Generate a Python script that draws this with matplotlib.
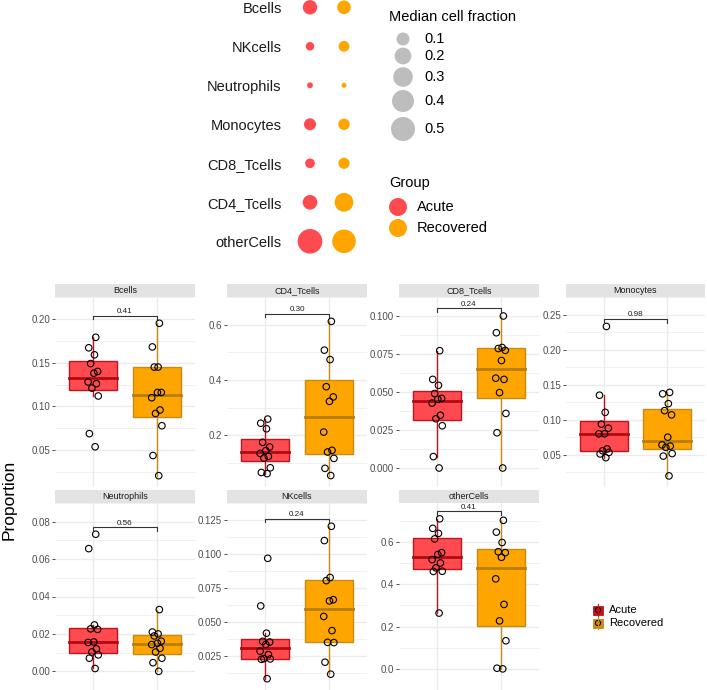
import numpy as np
import matplotlib
matplotlib.use("Agg")
import matplotlib.pyplot as plt
from matplotlib.patches import Rectangle

plt.rcParams['font.family'] = ['Liberation Sans', 'DejaVu Sans']

# ---- data ----
cell_types = ["Bcells", "CD4_Tcells", "CD8_Tcells", "Monocytes",
              "Neutrophils", "NKcells", "otherCells"]
dot_order = ["Bcells", "NKcells", "Neutrophils", "Monocytes",
             "CD8_Tcells", "CD4_Tcells", "otherCells"]
groups = ["Acute", "Recovered"]

acute = {
    "Bcells": [0.054, 0.069, 0.112, 0.121, 0.126, 0.128, 0.138, 0.140, 0.149, 0.159, 0.167, 0.179],
    "CD4_Tcells": [0.062, 0.066, 0.083, 0.118, 0.124, 0.135, 0.145, 0.158, 0.175, 0.224, 0.244, 0.259],
    "CD8_Tcells": [0.0, 0.0075, 0.0278, 0.0324, 0.0347, 0.0427, 0.0452, 0.0458, 0.049, 0.0544, 0.0583, 0.0772],
    "Monocytes": [0.046, 0.0513, 0.0535, 0.0558, 0.0584, 0.080, 0.080, 0.088, 0.0938, 0.1106, 0.135, 0.233],
    "Neutrophils": [0.0015, 0.007, 0.0088, 0.0103, 0.012, 0.0154, 0.0157, 0.0224, 0.0227, 0.0248, 0.0656, 0.0733],
    "NKcells": [0.0085, 0.0227, 0.023, 0.0232, 0.0262, 0.0287, 0.0336, 0.0354, 0.0359, 0.0419, 0.0619, 0.0969],
    "otherCells": [0.264, 0.461, 0.462, 0.478, 0.501, 0.517, 0.541, 0.550, 0.615, 0.641, 0.665, 0.710],
}
recovered = {
    "Bcells": [0.021, 0.044, 0.078, 0.092, 0.096, 0.110, 0.116, 0.116, 0.145, 0.145, 0.168, 0.195],
    "CD4_Tcells": [0.055, 0.081, 0.117, 0.140, 0.146, 0.212, 0.323, 0.339, 0.376, 0.474, 0.508, 0.612],
    "CD8_Tcells": [0.0, 0.0232, 0.0359, 0.0496, 0.0583, 0.0591, 0.0707, 0.0774, 0.0786, 0.0793, 0.089, 0.100],
    "Monocytes": [0.020, 0.0482, 0.0518, 0.0606, 0.0624, 0.0642, 0.0752, 0.107, 0.113, 0.123, 0.137, 0.139],
    "Neutrophils": [0.0, 0.0046, 0.007, 0.0103, 0.0123, 0.0143, 0.015, 0.0161, 0.0189, 0.020, 0.021, 0.033],
    "NKcells": [0.0118, 0.0206, 0.035, 0.0352, 0.0438, 0.0542, 0.0656, 0.0665, 0.0805, 0.0828, 0.1099, 0.1204],
    "otherCells": [0.0, 0.003, 0.133, 0.227, 0.305, 0.426, 0.528, 0.550, 0.554, 0.598, 0.647, 0.703],
}
p_values = {"Bcells": "0.41", "CD4_Tcells": "0.30", "CD8_Tcells": "0.24", "Monocytes": "0.98",
            "Neutrophils": "0.56", "NKcells": "0.24", "otherCells": "0.41"}
y_ticks = {
    "Bcells": ([0.05, 0.10, 0.15, 0.20], "%.2f"),
    "CD4_Tcells": ([0.2, 0.4, 0.6], "%.1f"),
    "CD8_Tcells": ([0.0, 0.025, 0.05, 0.075, 0.1], "%.3f"),
    "Monocytes": ([0.05, 0.10, 0.15, 0.20, 0.25], "%.2f"),
    "Neutrophils": ([0.0, 0.02, 0.04, 0.06, 0.08], "%.2f"),
    "NKcells": ([0.025, 0.05, 0.075, 0.1, 0.125], "%.3f"),
    "otherCells": ([0.0, 0.2, 0.4, 0.6], "%.1f"),
}
size_breaks = [0.1, 0.2, 0.3, 0.4, 0.5]

# ---- style ----
W, H = 707, 690
fill = {"Acute": "#FF4B50", "Recovered": "#FFA500"}
edge = {"Acute": "#C4121C", "Recovered": "#C98A12"}
med_col = {"Acute": "#B00A12", "Recovered": "#B87D10"}
grid_col = "#EBEBEB"

fig = plt.figure(figsize=(W / 100, H / 100), dpi=100)


def px_axes(x0, y0, x1, y1, **kw):
    return fig.add_axes([x0 / W, 1 - y1 / H, (x1 - x0) / W, (y1 - y0) / H], **kw)


# ---- top dot plot ----
medians = {g: {c: np.median(d[c]) for c in cell_types}
           for g, d in (("Acute", acute), ("Recovered", recovered))}
all_med = [v for g in groups for v in medians[g].values()]
vmin, vmax = min(all_med), max(all_med)


def dot_size(v, d0=5.0, d1=24.6):
    # ggplot-like area scale, diameter in pixels -> scatter size in pt^2
    d = d0 + (d1 - d0) * np.sqrt(np.clip((np.asarray(v) - vmin) / (vmax - vmin), 0, 1))
    return (d * 0.72) ** 2


dax = px_axes(290, 0, 364, 260)
for gi, g in enumerate(groups):
    ys = np.arange(len(dot_order))
    vals = [medians[g][c] for c in dot_order]
    dax.scatter(np.full(len(ys), gi), ys, s=dot_size(vals), color=fill[g],
                edgecolors="none", clip_on=False)
dax.set_xlim(-0.588, 1.588)
dax.set_ylim((260 - 7.3) / 39, -7.3 / 39)
dax.set_yticks(range(len(dot_order)))
dax.set_yticklabels(dot_order, fontsize=10.5, color="#1A1A1A")
dax.set_xticks([])
dax.tick_params(axis="y", length=0, pad=6)
for s in dax.spines.values():
    s.set_visible(False)

# legends (overlay in pixel coordinates)
lax = px_axes(0, 0, W, H)
lax.set_xlim(0, W)
lax.set_ylim(H, 0)
lax.axis("off")
lax.text(389, 17, "Median cell fraction", fontsize=10.5, va="center", ha="left")
for b, yy in zip(size_breaks, [39, 56, 77, 101, 129]):
    lax.scatter([403], [yy], s=dot_size(b), color="#BDBDBD", edgecolors="none")
    lax.text(424, yy, f"{b:.1f}", fontsize=10.5, va="center", ha="left")
lax.text(389, 183, "Group", fontsize=10.5, va="center", ha="left")
for g, yy in zip(groups, [207, 228]):
    lax.scatter([398], [yy], s=(18 * 0.72) ** 2, color=fill[g], edgecolors="none")
    lax.text(417, yy, g, fontsize=10.5, va="center", ha="left")

# ---- boxplot facets ----
cols_px = [(55, 195), (227, 367), (399, 539), (566, 705)]
rows_px = [(297, 487), (503, 690)]
jit = np.array([0.03, -0.06, 0.08, -0.02, 0.05, -0.08, 0.01, 0.07, -0.04, 0.02, -0.07, 0.04])


def box_stats(v):
    v = np.sort(np.asarray(v))
    q1, med, q3 = np.percentile(v, [25, 50, 75])
    iqr = q3 - q1
    lo = v[v >= q1 - 1.5 * iqr].min()
    hi = v[v <= q3 + 1.5 * iqr].max()
    return q1, med, q3, lo, hi


for i, c in enumerate(cell_types):
    r, k = divmod(i, 4)
    x0, x1 = cols_px[k]
    y0, y1 = rows_px[r]
    ax = px_axes(x0, y0, x1, y1)
    sax = px_axes(x0, y0 - 13, x1, y0)
    sax.set_facecolor("#E3E3E3")
    sax.set_xticks([])
    sax.set_yticks([])
    for s in sax.spines.values():
        s.set_visible(False)
    sax.text(0.5, 0.5, c, transform=sax.transAxes, ha="center", va="center",
             fontsize=6.5, color="#1A1A1A")

    allv = np.concatenate([acute[c], recovered[c]])
    lo, hi = allv.min(), allv.max()
    bracket = hi + 0.05 * (hi - lo)
    T = (bracket - lo) / (1 - 0.11)

    for gi, (g, d) in enumerate((("Acute", acute), ("Recovered", recovered))):
        xpos = gi + 1
        q1, med, q3, wlo, whi = box_stats(d[c])
        ax.plot([xpos, xpos], [wlo, q1], color=edge[g], lw=1.0, zorder=2)
        ax.plot([xpos, xpos], [q3, whi], color=edge[g], lw=1.0, zorder=2)
        ax.add_patch(Rectangle((xpos - 0.375, q1), 0.75, q3 - q1, facecolor=fill[g],
                               edgecolor=edge[g], lw=1.0, zorder=3))
        ax.plot([xpos - 0.375, xpos + 0.375], [med, med], color=med_col[g], lw=2.0, zorder=4)
        vals = np.asarray(d[c])
        ax.scatter(xpos + jit[:len(vals)], vals, s=22, facecolors="none",
                   edgecolors="black", linewidths=0.8, zorder=5)

    tip = 0.02 * T
    ax.plot([1, 1, 2, 2], [bracket - tip, bracket, bracket, bracket - tip],
            color="#333333", lw=0.8, zorder=6)
    ax.text(1.5, bracket + 0.004 * T, p_values[c], ha="center", va="bottom",
            fontsize=5.8, color="#1A1A1A")

    ax.set_xlim(0.4, 2.6)
    ax.set_ylim(lo - 0.063 * T, bracket + 0.047 * T)
    ticks, fmt = y_ticks[c]
    ax.set_yticks(ticks)
    ax.set_yticklabels([fmt % t for t in ticks], fontsize=7, color="#4D4D4D")
    minor = [(a + b) / 2 for a, b in zip(ticks[:-1], ticks[1:])]
    step = ticks[1] - ticks[0]
    minor += [ticks[0] - step / 2, ticks[-1] + step / 2]
    ax.set_yticks(minor, minor=True)
    ax.set_xticks([1, 2])
    ax.set_xticklabels([])
    ax.tick_params(axis="x", length=0)
    ax.tick_params(axis="y", length=2, width=0.6, color="#333333", pad=1.5)
    ax.tick_params(axis="y", which="minor", length=0)
    ax.grid(True, which="major", color=grid_col, lw=1.0, zorder=0)
    ax.grid(True, which="minor", axis="y", color=grid_col, lw=0.5, zorder=0)
    ax.set_axisbelow(True)
    for s in ax.spines.values():
        s.set_visible(False)

# y label
lax.text(9, 500, "Proportion", rotation=90, fontsize=12.5, ha="center", va="center")

# bottom-right legend
for g, yy in zip(groups, [610, 623]):
    lax.add_patch(Rectangle((593, yy - 4.5), 10, 9, facecolor=edge[g], edgecolor=edge[g], lw=0.6))
    lax.plot([598, 598], [yy - 6, yy + 6], color=edge[g], lw=0.8)
    lax.scatter([598], [yy], s=14, facecolors="none", edgecolors="black", linewidths=0.7)
    lax.text(609, yy, g, fontsize=8, va="center", ha="left")

fig.savefig("out.png", dpi=100)
